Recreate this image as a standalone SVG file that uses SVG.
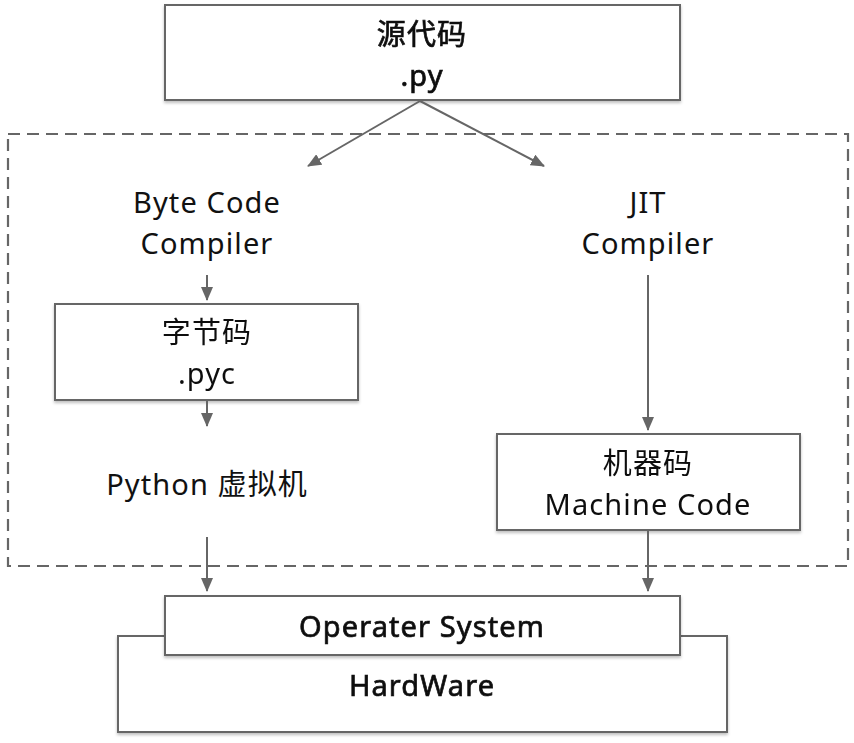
<svg xmlns="http://www.w3.org/2000/svg" width="854" height="743" viewBox="0 0 854 743">
<style>
.box{fill:#fff;stroke:#666;stroke-width:2}
.t{font-family:"Noto Sans","Noto Sans CJK SC",sans-serif;font-size:29px;letter-spacing:1.1px;fill:#111;text-anchor:middle}
.b{stroke:#111;stroke-width:0.7}
.c{stroke:#666;stroke-width:2;fill:none;marker-end:url(#ah)}
</style>
<defs>
<marker id="ah" markerUnits="userSpaceOnUse" markerWidth="14" markerHeight="12" refX="13" refY="6" orient="auto">
<path d="M0,0 L14,6 L0,12 Z" fill="#666"/>
</marker>
<filter id="sh" x="-5%" y="-10%" width="110%" height="130%">
<feDropShadow dx="0" dy="2" stdDeviation="1.5" flood-color="#000" flood-opacity="0.25"/>
</filter>
</defs>
<rect id="container" x="8" y="134" width="840" height="432" fill="none" stroke="#666" stroke-width="2.2" stroke-dasharray="12,7"/>
<g id="source" filter="url(#sh)">
<rect class="box" x="165" y="5" width="515" height="95"/>
<text class="t b" x="422" y="45">源代码</text>
<text class="t b" x="422" y="86">.py</text>
</g>
<g id="bytecode-compiler">
<text class="t" x="207" y="213">Byte Code</text>
<text class="t" x="207" y="254">Compiler</text>
</g>
<g id="jit-compiler">
<text class="t" x="648" y="213">JIT</text>
<text class="t" x="648" y="254">Compiler</text>
</g>
<g id="pyc" filter="url(#sh)">
<rect class="box" x="55" y="304" width="303" height="96"/>
<text class="t" x="207" y="343">字节码</text>
<text class="t" x="207" y="384">.pyc</text>
</g>
<g id="pvm">
<text class="t" x="207" y="495">Python 虚拟机</text>
</g>
<g id="machine-code" filter="url(#sh)">
<rect class="box" x="497" y="434" width="303" height="96"/>
<text class="t" x="648" y="474">机器码</text>
<text class="t" x="648" y="515">Machine Code</text>
</g>
<g id="hardware" filter="url(#sh)">
<rect class="box" x="118" y="636" width="609" height="96"/>
<text class="t b" x="422" y="696">HardWare</text>
</g>
<g id="os" filter="url(#sh)">
<rect class="box" x="165" y="596" width="515" height="59"/>
<text class="t b" x="422" y="637">Operater System</text>
</g>
<g id="connectors">
<line class="c" x1="420" y1="101" x2="308" y2="166"/>
<line class="c" x1="420" y1="101" x2="544" y2="166"/>
<line class="c" x1="207" y1="275" x2="207" y2="300"/>
<line class="c" x1="207" y1="401" x2="207" y2="426"/>
<line class="c" x1="648" y1="275" x2="648" y2="430"/>
<line class="c" x1="207" y1="537" x2="207" y2="591"/>
<line class="c" x1="648" y1="531" x2="648" y2="591"/>
</g>
</svg>
